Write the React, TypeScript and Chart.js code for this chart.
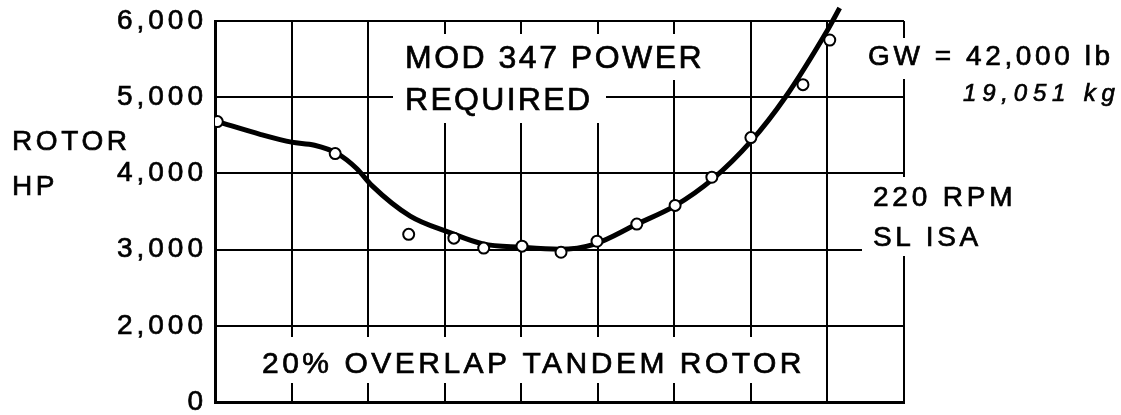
import { useEffect, useRef } from 'react';
import { Chart, registerables } from 'chart.js';

Chart.register(...registerables);

// X axis: unlabeled grid divisions (0..9)
const xGridMin = 0;
const xGridMax = 9;

// Y axis ticks (broken axis: the lowest gridline is labelled "0")
const yTickValues = [1000, 2000, 3000, 4000, 5000, 6000];
const yTickLabels = ['0', '2,000', '3,000', '4,000', '5,000', '6,000'];

// Measured points (rotor HP)
const pointX = [0.03, 1.57, 2.53, 3.12, 3.51, 4.01, 4.52, 4.99, 5.51, 6.01, 6.49, 7.0, 7.68, 8.03];
const pointHP = [4680, 4260, 3200, 3150, 3020, 3045, 2965, 3110, 3335, 3580, 3950, 4470, 5165, 5750];

// Faired curve
const curveX = [0.03, 0.6, 1.0, 1.3, 1.6, 1.85, 2.05, 2.55, 3.05, 3.5, 4.0, 4.5, 4.95, 5.5, 6.0, 6.5, 7.0, 7.45, 8.0, 8.16];
const curveHP = [4680, 4510, 4410, 4370, 4260, 4065, 3840, 3440, 3230, 3075, 3030, 3005, 3070, 3330, 3570, 3925, 4420, 5000, 5880, 6170];

const FONT = "'Liberation Sans', Arial, Helvetica, sans-serif";

type Txt = { text: string; x: number; y: number; size: number; spacing: number; italic?: boolean };

const texts: Txt[] = [
  { text: 'ROTOR', x: 12, y: 150, size: 28, spacing: 3.6 },
  { text: 'HP', x: 12, y: 195, size: 28, spacing: 3.6 },
  { text: 'MOD 347 POWER', x: 405, y: 68, size: 32, spacing: 2.5 },
  { text: 'REQUIRED', x: 405, y: 110, size: 32, spacing: 2.3 },
  { text: '20% OVERLAP TANDEM ROTOR', x: 262, y: 373, size: 30, spacing: 3.5 },
  { text: 'GW = 42,000 lb', x: 868, y: 65, size: 28, spacing: 3.6 },
  { text: '19,051 kg', x: 963, y: 101, size: 24, spacing: 5.8, italic: true },
  { text: '220 RPM', x: 873, y: 206, size: 28, spacing: 3.8 },
  { text: 'SL ISA', x: 873, y: 246, size: 28, spacing: 3.6 },
];

const whiteBoxes: [number, number, number, number][] = [
  [398, 34, 304, 46],
  [393, 80, 213, 43],
  [255, 337, 560, 46],
  [862, 38, 259, 41],
  [862, 177, 259, 79],
];

const textPlugin = {
  id: 'chartTexts',
  beforeDraw(chart: any) {
    (chart.ctx as any).letterSpacing = '4px';
  },
  beforeDatasetsDraw(chart: any) {
    const ctx = chart.ctx as CanvasRenderingContext2D;
    ctx.save();
    ctx.fillStyle = '#ffffff';
    whiteBoxes.forEach(([x, y, w, h]) => ctx.fillRect(x, y, w, h));
    ctx.fillStyle = '#000000';
    ctx.strokeStyle = '#000000';
    ctx.lineWidth = 0.7;
    ctx.textBaseline = 'alphabetic';
    ctx.textAlign = 'left';
    texts.forEach((t) => {
      (ctx as any).letterSpacing = `${t.spacing}px`;
      ctx.font = `${t.italic ? 'italic ' : ''}${t.size}px ${FONT}`;
      ctx.fillText(t.text, t.x, t.y);
      ctx.strokeText(t.text, t.x, t.y);
    });
    ctx.restore();
  },
};

export default function App() {
  const canvasRef = useRef<HTMLCanvasElement | null>(null);

  useEffect(() => {
    const canvas = canvasRef.current;
    if (!canvas) return;
    const chart = new Chart(canvas, {
      type: 'scatter',
      data: {
        datasets: [
          {
            label: 'Test points',
            data: pointX.map((x, i) => ({ x, y: pointHP[i] })),
            showLine: false,
            pointRadius: 5.5,
            pointBorderWidth: 2,
            pointBackgroundColor: '#ffffff',
            pointBorderColor: '#000000',
            order: 0,
          },
          {
            label: 'Power required',
            data: curveX.map((x, i) => ({ x, y: curveHP[i] })),
            showLine: true,
            pointRadius: 0,
            borderColor: '#000000',
            borderWidth: 5,
            tension: 0.4,
            cubicInterpolationMode: 'monotone',
            clip: false as any,
            order: 1,
          },
        ],
      },
      options: {
        animation: false,
        responsive: false,
        events: [],
        layout: { padding: { left: 0, right: 217, top: 21, bottom: 13 } },
        plugins: { legend: { display: false }, tooltip: { enabled: false } },
        scales: {
          x: {
            type: 'linear',
            min: xGridMin,
            max: xGridMax,
            ticks: { display: false, stepSize: 1 },
            grid: { color: '#000000', lineWidth: 2, drawTicks: false },
            border: { display: true, color: '#000000', width: 3 },
            afterFit: (scale: any) => {
              scale.height = 0;
              scale.paddingLeft = 0;
              scale.paddingRight = 0;
            },
          },
          y: {
            type: 'linear',
            min: yTickValues[0],
            max: yTickValues[yTickValues.length - 1],
            afterBuildTicks: (scale: any) => {
              scale.ticks = yTickValues.map((v) => ({ value: v }));
            },
            ticks: {
              color: '#000000',
              padding: 8,
              textStrokeColor: '#000000',
              textStrokeWidth: 0.7,
              font: { family: FONT, size: 28 },
              callback: (v: any) => {
                const i = yTickValues.indexOf(Number(v));
                return i >= 0 ? yTickLabels[i] : '';
              },
            },
            grid: { color: '#000000', lineWidth: 2, drawTicks: false },
            border: { display: true, color: '#000000', width: 3 },
            afterFit: (scale: any) => {
              scale.width = 215;
              scale.paddingTop = 0;
              scale.paddingBottom = 0;
            },
          },
        },
      },
      plugins: [textPlugin],
    } as any);
    return () => chart.destroy();
  }, []);

  return (
    <div style={{ position: 'fixed', left: 0, top: 0, width: 1121, height: 415, background: '#ffffff' }}>
      <canvas ref={canvasRef} width={1121} height={415} style={{ display: 'block', width: 1121, height: 415 }} />
    </div>
  );
}
